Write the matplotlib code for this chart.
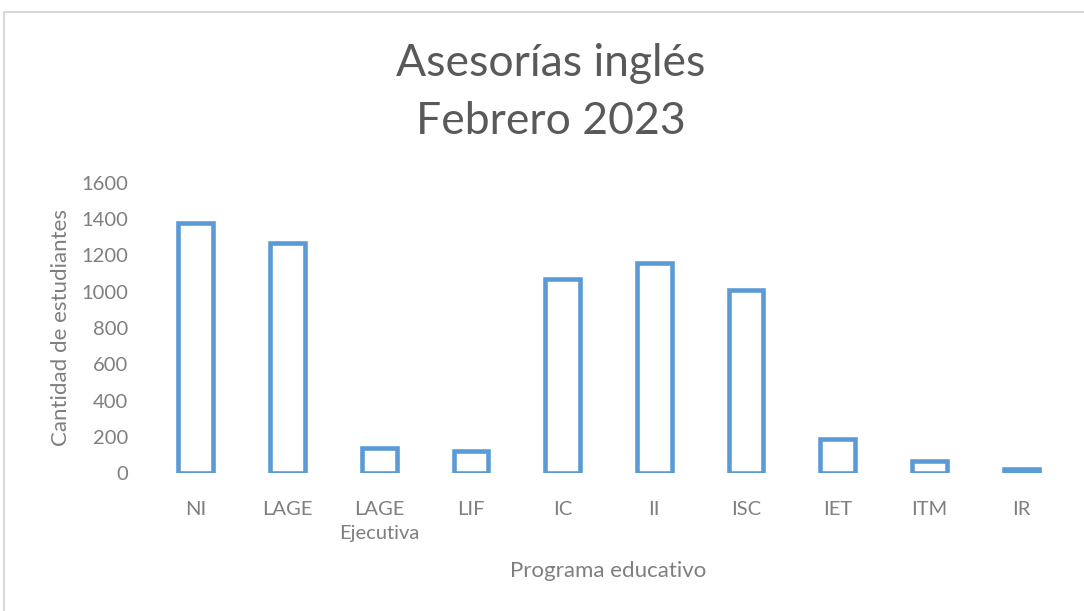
import matplotlib.pyplot as plt
from matplotlib.patches import Rectangle

programas = ['NI', 'LAGE', 'LAGE\nEjecutiva', 'LIF', 'IC', 'II', 'ISC', 'IET', 'ITM', 'IR']
estudiantes = [1380, 1270, 140, 120, 1070, 1160, 1010, 185, 65, 22]
y_ticks = [0, 200, 400, 600, 800, 1000, 1200, 1400, 1600]

gris = '#7f7f7f'
azul = '#5b9bd5'
plt.rcParams['font.family'] = ['Lato', 'DejaVu Sans']

fig = plt.figure(figsize=(10.84, 6.11), dpi=100)
ax = fig.add_axes([150/1084, 138/611, 917/1084, 290/611])

x = range(len(programas))
ax.bar(x, estudiantes, width=0.38, facecolor='white', edgecolor=azul, linewidth=3.3)

ax.set_xlim(-0.5, len(programas)-0.5)
ax.set_ylim(0, 1600)
ax.set_yticks(y_ticks)
ax.set_xticks(list(x))
ax.set_xticklabels(programas, linespacing=1.5)
ax.tick_params(length=0, labelsize=14.5, colors=gris)
ax.tick_params(axis='x', pad=20)
ax.tick_params(axis='y', pad=16)
for s in ax.spines.values():
    s.set_visible(False)

ax.set_ylabel('Cantidad de estudiantes', fontsize=16, color=gris, labelpad=7)
ax.set_xlabel('Programa educativo', fontsize=16, color=gris, labelpad=14)

fig.text(551/1084, 1-64/611, 'Asesorías inglés', ha='center', va='center',
         fontsize=32, color='#595959')
fig.text(551/1084, 1-122/611, 'Febrero 2023', ha='center', va='center',
         fontsize=32, color='#595959')

fig.patches.append(Rectangle((4/1084, -0.01), 1.02, 1-12/611+0.01, transform=fig.transFigure,
                             fill=False, edgecolor='#d9d9d9', linewidth=1.5))

fig.savefig('out.png', dpi=100)
